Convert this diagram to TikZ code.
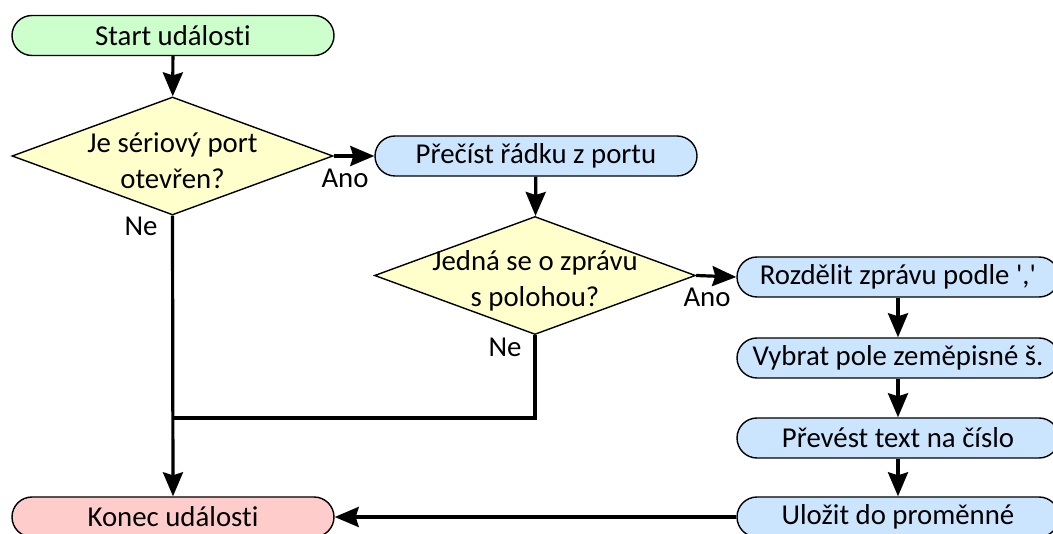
\documentclass[tikz,border=0pt]{standalone}
\usepackage{fontspec}
\setmainfont{Carlito}[Ligatures=NoCommon]
\newfontfamily\plainq{Carlito}[Ligatures={TeXOff,NoCommon}]
\usetikzlibrary{shapes.geometric,arrows.meta}
\definecolor{startgreen}{RGB}{204,255,204}
\definecolor{decyellow}{RGB}{255,255,204}
\definecolor{procblue}{RGB}{204,229,255}
\definecolor{endred}{RGB}{255,204,204}
\begin{document}
\begin{tikzpicture}[x=1pt,y=-1pt,
  every node/.style={font=\fontsize{28.8}{36}\selectfont},
  pill/.style={draw, line width=1.4pt, rounded corners=20pt,
    minimum width=322pt, minimum height=40pt, inner sep=0pt},
  startbox/.style={pill, fill=startgreen},
  procbox/.style={pill, fill=procblue},
  endbox/.style={pill, fill=endred},
  decision/.style={draw, line width=1.4pt, diamond, fill=decyellow,
    aspect=2.72, minimum width=321pt, minimum height=118pt, inner sep=0pt},
  dectext/.style={align=center, inner sep=0pt},
  lbl/.style={inner sep=0pt},
  flow/.style={line width=3.2pt},
  arr/.style={flow, -{Stealth[length=24pt, width=20pt, inset=3pt]}}
]
\useasboundingbox (0,0) rectangle (1053,534);

% left column
\node[startbox] (start) at (173,35.5) {Start události};
\node[decision] (d1) at (172.5,156) {};
\node[dectext] (d1t) at (172.5,161) {Je sériový port\\otevřen?};
\node[endbox] (stop) at (173,517) {Konec události};

% middle column
\node[procbox] (read) at (536,156) {Přečíst řádku z portu};
\node[decision] (d2) at (535,275.5) {};
\node[dectext] (d2t) at (535,280.5) {Jedná se o zprávu\\s polohou?};

% right column
\node[procbox] (split) at (898,277) {Rozdělit zprávu podle {\plainq','}};
\node[procbox] (pick)  at (898,358) {Vybrat pole zeměpisné š.};
\node[procbox] (conv)  at (898,438) {Převést text na číslo};
\node[procbox] (store) at (898,517) {Uložit do proměnné};

% branch labels
\node[lbl] (ano1) at (345,178) {Ano};
\node[lbl] (ne1)  at (141,226) {Ne};
\node[lbl] (ano2) at (707,297) {Ano};
\node[lbl] (ne2)  at (505,347) {Ne};

\coordinate (merge) at (173,418);

% connectors
\draw[arr] (start) -- (d1);
\draw[arr] (d1.east) -- (read.west);
\draw[arr] (d1.south) -- (stop.north);
\draw[arr] (read) -- (d2);
\draw[arr] (d2.east) -- (split.west);
\draw[flow] (d2.south) |- (merge);
\draw[arr] (split) -- (pick);
\draw[arr] (pick) -- (conv);
\draw[arr] (conv) -- (store);
\draw[arr] (store) -- (stop);
\end{tikzpicture}
\end{document}
